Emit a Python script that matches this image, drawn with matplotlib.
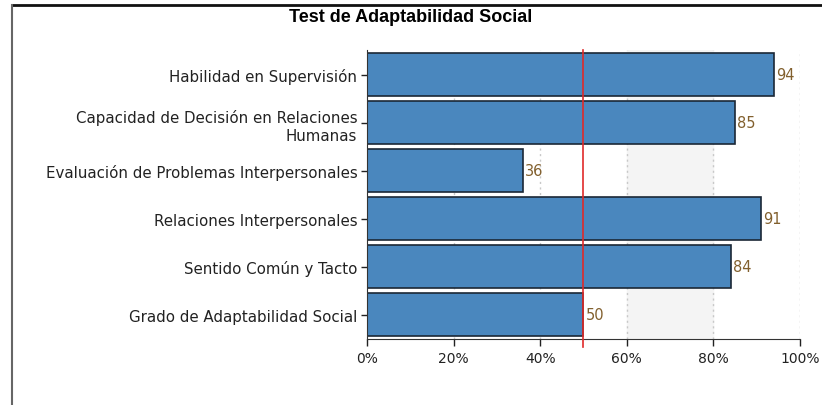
import matplotlib
matplotlib.use('Agg')
import matplotlib.pyplot as plt
from matplotlib.lines import Line2D
from matplotlib.ticker import FuncFormatter

# datos del test
categorias = [
    'Habilidad en Supervisión',
    'Capacidad de Decisión en Relaciones\nHumanas',
    'Evaluación de Problemas Interpersonales',
    'Relaciones Interpersonales',
    'Sentido Común y Tacto',
    'Grado de Adaptabilidad Social',
]
puntajes = [94, 85, 36, 91, 84, 50]
referencia = 50
ticks_x = [0, 20, 40, 60, 80, 100]

plt.rcParams['font.family'] = ['DejaVu Sans']

fig = plt.figure(figsize=(8.22, 4.06), dpi=100)
ax = fig.add_axes([0.4465, 0.1626, 0.5267, 0.7118])

# orden de arriba hacia abajo
pos = list(range(len(categorias)))[::-1]

ax.axvspan(60, 80, color='#f4f4f4', zorder=0)
for t in ticks_x[1:]:
    ax.axvline(t, color='#c8c8c8', lw=1, ls=(0, (1.5, 2.5)), zorder=1)

ax.barh(pos, puntajes, height=0.9, color='#4a87be', edgecolor='#1b2836',
        linewidth=1.2, zorder=2)

for y, v in zip(pos, puntajes):
    ax.annotate(str(v), (v, y), xytext=(1.5, 0), textcoords='offset points',
                va='center', ha='left', fontsize=10.5, color='#82602e',
                zorder=4)

# linea de referencia
ax.plot([referencia, referencia], [-0.67, 5.52], color='#e02a2a', lw=1.2,
        clip_on=False, zorder=3)

ax.set_xlim(0, 100)
ax.set_ylim(-0.51, 5.52)
ax.set_xticks(ticks_x)
ax.xaxis.set_major_formatter(FuncFormatter(lambda v, p: f'{v:.0f}%'))
ax.set_yticks(pos)
ax.set_yticklabels(categorias, linespacing=1.3)
ax.tick_params(axis='x', labelsize=10, colors='#222222', length=5, width=1)
ax.tick_params(axis='y', labelsize=10.8, colors='#222222', length=4, width=1,
               pad=3)

for s in ['top', 'right']:
    ax.spines[s].set_visible(False)
ax.spines['left'].set_color('#333333')
ax.spines['bottom'].set_color('#333333')

fig.text(0.5, 0.957, 'Test de Adaptabilidad Social', ha='center', va='center',
         fontsize=13, fontweight='bold', family=['Liberation Sans'])

# marco exterior
fig.add_artist(Line2D([12 / 822, 1], [1 - 6 / 406, 1 - 6 / 406],
                      color='#111111', lw=2, transform=fig.transFigure))
fig.add_artist(Line2D([12 / 822, 12 / 822], [0, 1 - 6 / 406],
                      color='#666666', lw=1.5, transform=fig.transFigure))

fig.savefig('out.png', dpi=100)
